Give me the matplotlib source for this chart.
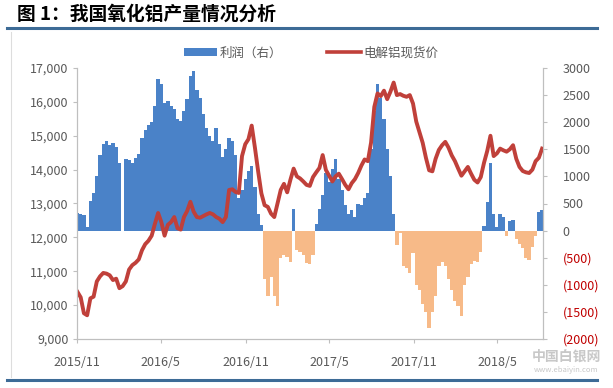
import pandas as pd
import numpy as np
import matplotlib
matplotlib.use("Agg")
import matplotlib.pyplot as plt
from matplotlib.lines import Line2D
from matplotlib.patches import Patch
from matplotlib.ticker import FuncFormatter

plt.rcParams["font.family"] = ["Noto Sans CJK SC", "DejaVu Sans"]

# Weekly samples (first week starts 2015-11-02)
start_date = "2015-11-02"

# 利润（右）, yuan/t -- NaN marks the Spring Festival gap
profit = [
    330, 300, 280, 60, 550, 700, 1000, 1400, 1600, 1650,
    1580, 1620, 1550, 1250, np.nan, 1320, 1300, 1250, 1340, 1420,
    1700, 1850, 1950, 2000, 2300, 2790, 2700, 2350, 2400, 2300,
    2250, 2050, 2030, 2200, 2420, 2850, 2950, 2600, 2450, 2150,
    1900, 1750, 1650, 1900, 1600, 1350, 1500, 1700, 1650, 1400,
    600, 750, 950, 1100, 1200, 800, 300, 100, -900, -1200,
    -850, -1200, -1400, -500, -450, -480, -580, 390, -350, -400,
    -450, -600, -620, -450, 120, 400, 650, 1070, 900, 1140,
    1320, 950, 750, 480, 300, 380, 250, 500, 480, 600,
    700, 1500, 2200, 2700, 2450, 2050, 1500, 1000, 300, -260,
    -50, -650, -690, -780, -420, -1000, -1100, -1350, -1500, -1800,
    -1500, -1200, -650, -580, -650, -900, -1100, -1300, -1400, -1580,
    -1000, -850, -620, -560, -580, -400, 80, 520, 1250, 300,
    60, 300, 250, -100, 180, 200, -150, -250, -330, -500,
    -540, -300, -100, 350, 380,
]

# 电解铝现货价, yuan/t
price = [
    10390, 10230, 9760, 9700, 10200, 10250, 10700, 10850, 10950, 10930,
    10880, 10740, 10780, 10500, 10560, 10700, 11050, 11180, 11250, 11350,
    11620, 11800, 11900, 12050, 12400, 12720, 12450, 12050, 12370, 12450,
    12600, 12270, 12230, 12600, 12780, 13050, 12760, 12600, 12580, 12630,
    12680, 12720, 12680, 12600, 12550, 12450, 12600, 13400, 13420, 13340,
    13310, 14400, 14750, 14900, 15300, 14650, 13950, 13300, 12950, 12900,
    12700, 12600, 13000, 13400, 13580, 13330, 13700, 14030, 13800, 13740,
    13650, 13550, 13520, 13780, 13920, 14050, 14430, 13990, 13820, 13650,
    13800, 13880, 13720, 13550, 13420, 13600, 13720, 13900, 14120, 14300,
    14250, 14800, 15850, 16250, 16170, 16330, 16080, 16300, 16570, 16200,
    16230, 16180, 16150, 16200, 15950, 15420, 15100, 14790, 14350, 13980,
    13950, 14320, 14580, 14720, 14820, 14650, 14420, 14250, 14030, 13820,
    13950, 14080, 13880, 13700, 13620, 13780, 14200, 14550, 15000, 14400,
    14480, 14620, 14570, 14530, 14600, 14720, 14320, 14080, 13960, 13920,
    13900, 14000, 14250, 14350, 14620,
]

tick_dates = ["2015-11-01", "2016-05-01", "2016-11-01", "2017-05-01", "2017-11-01", "2018-05-01"]
tick_labels = ["2015/11", "2016/5", "2016/11", "2017/5", "2017/11", "2018/5"]

left_ticks = [9000, 10000, 11000, 12000, 13000, 14000, 15000, 16000, 17000]
right_ticks = [-2000, -1500, -1000, -500, 0, 500, 1000, 1500, 2000, 2500, 3000]

dates = pd.date_range(start_date, periods=len(price), freq="7D")
profit = np.array(profit, dtype=float)

blue = "#4A82C8"
orange = "#F7BA88"
red = "#C0403A"
grey_text = "#595959"
spine_col = "#BFBFBF"

fig = plt.figure(figsize=(6.13, 3.88), dpi=100)
ax = fig.add_axes([77 / 613, 1 - 339 / 388, 466 / 613, 271 / 388])
ax2 = ax.twinx()

# bars on the right-hand scale
bar_colors = [blue if v >= 0 else orange for v in np.nan_to_num(profit)]
ax.bar(dates, profit, width=7.4, color=bar_colors, linewidth=0, align="center")
ax.set_ylim(-2000, 3000)
ax.set_yticks(right_ticks)
ax.yaxis.tick_right()
ax.yaxis.set_major_formatter(FuncFormatter(
    lambda v, p: f"({abs(int(v))})" if v < 0 else f"{int(v)}"))

# price line on the left-hand scale
ax2.plot(dates, price, color=red, linewidth=2.8, solid_joinstyle="round")
ax2.set_ylim(9000, 17000)
ax2.set_yticks(left_ticks)
ax2.yaxis.tick_left()
ax2.yaxis.set_major_formatter(FuncFormatter(lambda v, p: f"{int(v):,}"))

ax.set_xlim(pd.Timestamp("2015-11-01"), pd.Timestamp("2018-08-08"))
ax.set_xticks(pd.to_datetime(tick_dates))
ax.set_xticklabels(tick_labels)

for a in (ax, ax2):
    a.spines["top"].set_visible(False)
    for side in ("left", "right", "bottom"):
        a.spines[side].set_color(spine_col)
        a.spines[side].set_linewidth(0.8)
    a.tick_params(axis="both", colors=spine_col, labelcolor=grey_text,
                  labelsize=9, length=3, width=0.8, direction="out")
for lbl, v in zip(ax.get_yticklabels(), right_ticks):
    lbl.set_color("#C00000" if v < 0 else grey_text)
ax.tick_params(axis="y", pad=11)
ax.tick_params(axis="x", pad=9)
ax2.tick_params(axis="y", pad=3)

# legend
handles = [Patch(facecolor=blue, edgecolor="none"),
           Line2D([0], [0], color=red, linewidth=2.6)]
fig.legend(handles, ["利润（右）", "电解铝现货价"], loc="center",
           bbox_to_anchor=(311 / 613, 1 - 53 / 388), ncol=2, frameon=False,
           fontsize=9, labelcolor=grey_text, handlelength=2.7,
           handleheight=0.6, handletextpad=0.2, columnspacing=3.6)

# title and rules
fig.text(17 / 613, 1 - 14 / 388, "图 1：我国氧化铝产量情况分析", fontsize=13.5,
         fontweight="bold", ha="left", va="center", color="black")
fig.add_artist(Line2D([7 / 613, 597 / 613], [1 - 28 / 388] * 2,
                      transform=fig.transFigure, color="#3D6B96", linewidth=2.2))
fig.add_artist(Line2D([7 / 613, 597 / 613], [1 - 380 / 388] * 2,
                      transform=fig.transFigure, color="#3D6B96", linewidth=2.2))
fig.add_artist(Line2D([11 / 613, 11 / 613], [1 - 32 / 388, 1 - 377 / 388],
                      transform=fig.transFigure, color="#DDDDDD", linewidth=0.8))

# site watermark
fig.text(566 / 613, 1 - 357 / 388, "中国白银网", fontsize=10, color="#C8C8C8",
         ha="center", va="center", fontweight="bold")
fig.text(566 / 613, 1 - 370 / 388, "www.ebaiyin.com", fontsize=5.5, color="#C8C8C8",
         ha="center", va="center")

fig.savefig("out.png", dpi=100)
